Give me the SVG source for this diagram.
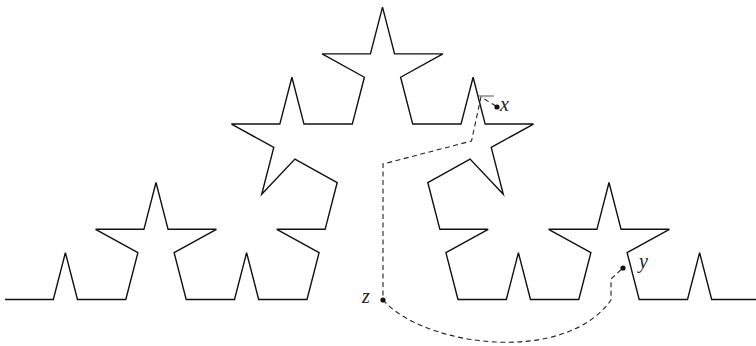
<svg xmlns="http://www.w3.org/2000/svg" width="756" height="346" viewBox="0 0 756 346">
<style>
.curve{fill:none;stroke:#111;stroke-width:1.4;stroke-linejoin:miter}
.dash{fill:none;stroke:#222;stroke-width:1.1;stroke-dasharray:5,3.5}
.pt{fill:#111}
.lbl{font-family:"Liberation Serif",serif;font-style:italic;font-size:20px;fill:#222}
</style>
<rect width="756" height="346" fill="#fff"/>
<g id="curve">
<path class="curve" d="M5,299.5 l
48.32,0 12.08,-46.79 12.08,46.79 48.32,0
12.08,-46.79 -42.28,-23.39 48.32,0 12.08,-46.79
12.08,46.79 48.32,0 -42.28,23.39 12.08,46.79
48.32,0 12.08,-46.79 12.08,46.79 48.32,0
12.08,-46.79 -42.28,-23.39 48.32,0 12.08,-46.79
-42.28,-23.39 -33.22,35.09 12.08,-46.79 -42.28,-23.39
48.32,0 12.08,-46.79 12.08,46.79 48.32,0
12.08,-46.79 -42.28,-23.39 48.32,0 12.08,-46.79
12.08,46.79 48.32,0 -42.28,23.39 12.08,46.79
48.32,0 12.08,-46.79 12.08,46.79 48.32,0
-42.28,23.39 12.08,46.79 -33.22,-35.09 -42.28,23.39
12.08,46.79 48.32,0 -42.28,23.39 12.08,46.79
48.32,0 12.08,-46.79 12.08,46.79 48.32,0
12.08,-46.79 -42.28,-23.39 48.32,0 12.08,-46.79
12.08,46.79 48.32,0 -42.28,23.39 12.08,46.79
48.32,0 12.08,-46.79 12.08,46.79 48.32,0"/>
</g>
<g id="connectors">
<path class="dash" d="M496,106 L481,97 L471.5,141 L383,164 L383,300"/>
<path class="dash" d="M383,300 C425,347 565,365 611,300 L611,279 L623,268"/>
<path d="M478,96 L494,96" fill="none" stroke="#555" stroke-width="1"/>
</g>
<g id="point-x">
<circle class="pt" cx="497" cy="107" r="2.6"/>
<text class="lbl" x="500" y="111">x</text>
</g>
<g id="point-y">
<circle class="pt" cx="623" cy="268" r="2.6"/>
<text class="lbl" x="639" y="268">y</text>
</g>
<g id="point-z">
<circle class="pt" cx="383" cy="300" r="2.6"/>
<text class="lbl" x="362" y="303">z</text>
</g>
</svg>
